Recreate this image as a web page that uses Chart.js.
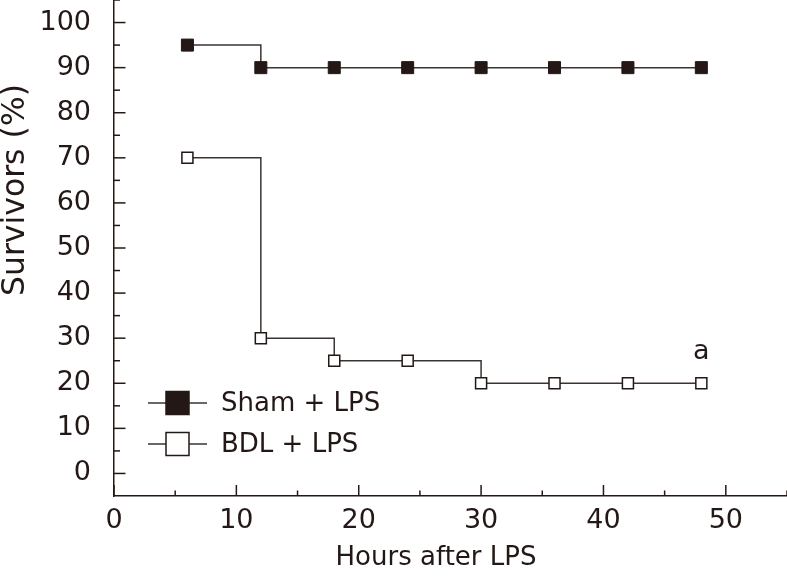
<!DOCTYPE html>
<html>
<head>
<meta charset="utf-8">
<script src="https://cdn.jsdelivr.net/npm/chart.js@4.4.1/dist/chart.umd.min.js"></script>
<style>
html,body{margin:0;padding:0;background:#fff;}
#wrap{width:787px;height:576px;}
</style>
</head>
<body>
<div id="wrap"><canvas id="c" width="787" height="576"></canvas></div>
<script>
const hours = [6, 12, 18, 24, 30, 36, 42, 48];
const shamLPS = [95, 90, 90, 90, 90, 90, 90, 90];
const bdlLPS = [70, 30, 25, 25, 20, 20, 20, 20];
const seriesNames = ['Sham + LPS', 'BDL + LPS'];
const xTicks = [0, 10, 20, 30, 40, 50];
const xMinorTicks = [5, 15, 25, 35, 45, 55];
const yTicks = [0, 10, 20, 30, 40, 50, 60, 70, 80, 90, 100];
const yMinorTicks = [5, 15, 25, 35, 45, 55, 65, 75, 85, 95, 105];
const xTitle = 'Hours after LPS';
const yTitle = 'Survivors (%)';
const annotation = {x: 48, y: 27, text: 'a'};

const INK = '#231815';
const LINE = '#3b3431';
const FONT = '"DejaVu Sans", sans-serif';

const decor = {
  id: 'decor',
  afterDraw(chart) {
    const ctx = chart.ctx;
    const xs = chart.scales.x, ys = chart.scales.y;
    const ca = chart.chartArea;
    ctx.save();
    ctx.strokeStyle = INK;
    ctx.lineWidth = 1.5;
    const tick = (x1, y1, x2, y2) => { ctx.beginPath(); ctx.moveTo(x1, y1); ctx.lineTo(x2, y2); ctx.stroke(); };
    yTicks.forEach(v => { const p = ys.getPixelForValue(v); tick(ca.left, p, ca.left + 11.5, p); });
    yMinorTicks.forEach(v => { const p = ys.getPixelForValue(v); tick(ca.left, p, ca.left + 6, p); });
    xTicks.forEach(v => { const p = xs.getPixelForValue(v); tick(p, ca.bottom, p, ca.bottom - 11); });
    xMinorTicks.forEach(v => { const p = xs.getPixelForValue(v); tick(p, ca.bottom, p, ca.bottom - 5.5); });
    ctx.fillStyle = INK;
    ctx.font = '26px ' + FONT;
    ctx.textAlign = 'center';
    ctx.textBaseline = 'middle';
    ctx.fillText(xTitle, 436, 558);
    ctx.save();
    ctx.translate(16, 190);
    ctx.rotate(-Math.PI / 2);
    ctx.font = '31.5px ' + FONT;
    ctx.fillText(yTitle, 0, 0);
    ctx.restore();
    ctx.font = '27px ' + FONT;
    ctx.fillText(annotation.text, xs.getPixelForValue(annotation.x), ys.getPixelForValue(annotation.y));
    chart.data.datasets.forEach((ds, i) => {
      const cy = 403 + i * 41;
      ctx.strokeStyle = LINE;
      ctx.lineWidth = 1.5;
      tick(148, cy, 207, cy);
      ctx.fillStyle = ds.pointBackgroundColor;
      ctx.fillRect(166, cy - 11.5, 23, 23);
      ctx.strokeStyle = INK;
      ctx.strokeRect(166, cy - 11.5, 23, 23);
      ctx.fillStyle = INK;
      ctx.font = '26px ' + FONT;
      ctx.textAlign = 'left';
      ctx.fillText(ds.label, 221, cy + 1);
    });
    ctx.restore();
  }
};

const noPad = s => { s.paddingTop = 0; s.paddingBottom = 0; s.paddingLeft = 0; s.paddingRight = 0; };

new Chart(document.getElementById('c'), {
  type: 'line',
  data: {
    datasets: [
      {
        label: seriesNames[0],
        data: hours.map((h, i) => ({x: h, y: shamLPS[i]})),
        stepped: true,
        borderColor: LINE,
        borderWidth: 1.5,
        pointStyle: 'rect',
        pointRadius: 8.5,
        pointBackgroundColor: INK,
        pointBorderColor: INK,
        pointBorderWidth: 1
      },
      {
        label: seriesNames[1],
        data: hours.map((h, i) => ({x: h, y: bdlLPS[i]})),
        stepped: true,
        borderColor: LINE,
        borderWidth: 1.5,
        pointStyle: 'rect',
        pointRadius: 7.8,
        pointBackgroundColor: '#ffffff',
        pointBorderColor: INK,
        pointBorderWidth: 1.5
      }
    ]
  },
  options: {
    responsive: false,
    animation: false,
    devicePixelRatio: 1,
    layout: {padding: 0, autoPadding: false},
    plugins: {legend: {display: false}, tooltip: {enabled: false}},
    scales: {
      x: {
        type: 'linear', min: 0, max: 55,
        afterBuildTicks: s => { s.ticks = xTicks.map(v => ({value: v})); },
        afterFit: s => { s.height = 80; noPad(s); },
        grid: {display: false, drawTicks: false},
        border: {display: true, color: INK, width: 1.5},
        ticks: {color: INK, font: {family: FONT, size: 27}, padding: 9, maxRotation: 0}
      },
      y: {
        type: 'linear', min: -5, max: 105,
        afterBuildTicks: s => { s.ticks = yTicks.map(v => ({value: v})); },
        afterFit: s => { s.width = 114; noPad(s); },
        grid: {display: false, drawTicks: false},
        border: {display: true, color: INK, width: 1.5},
        ticks: {color: INK, font: {family: FONT, size: 27}, padding: 23}
      }
    }
  },
  plugins: [decor]
});
</script>
</body>
</html>
